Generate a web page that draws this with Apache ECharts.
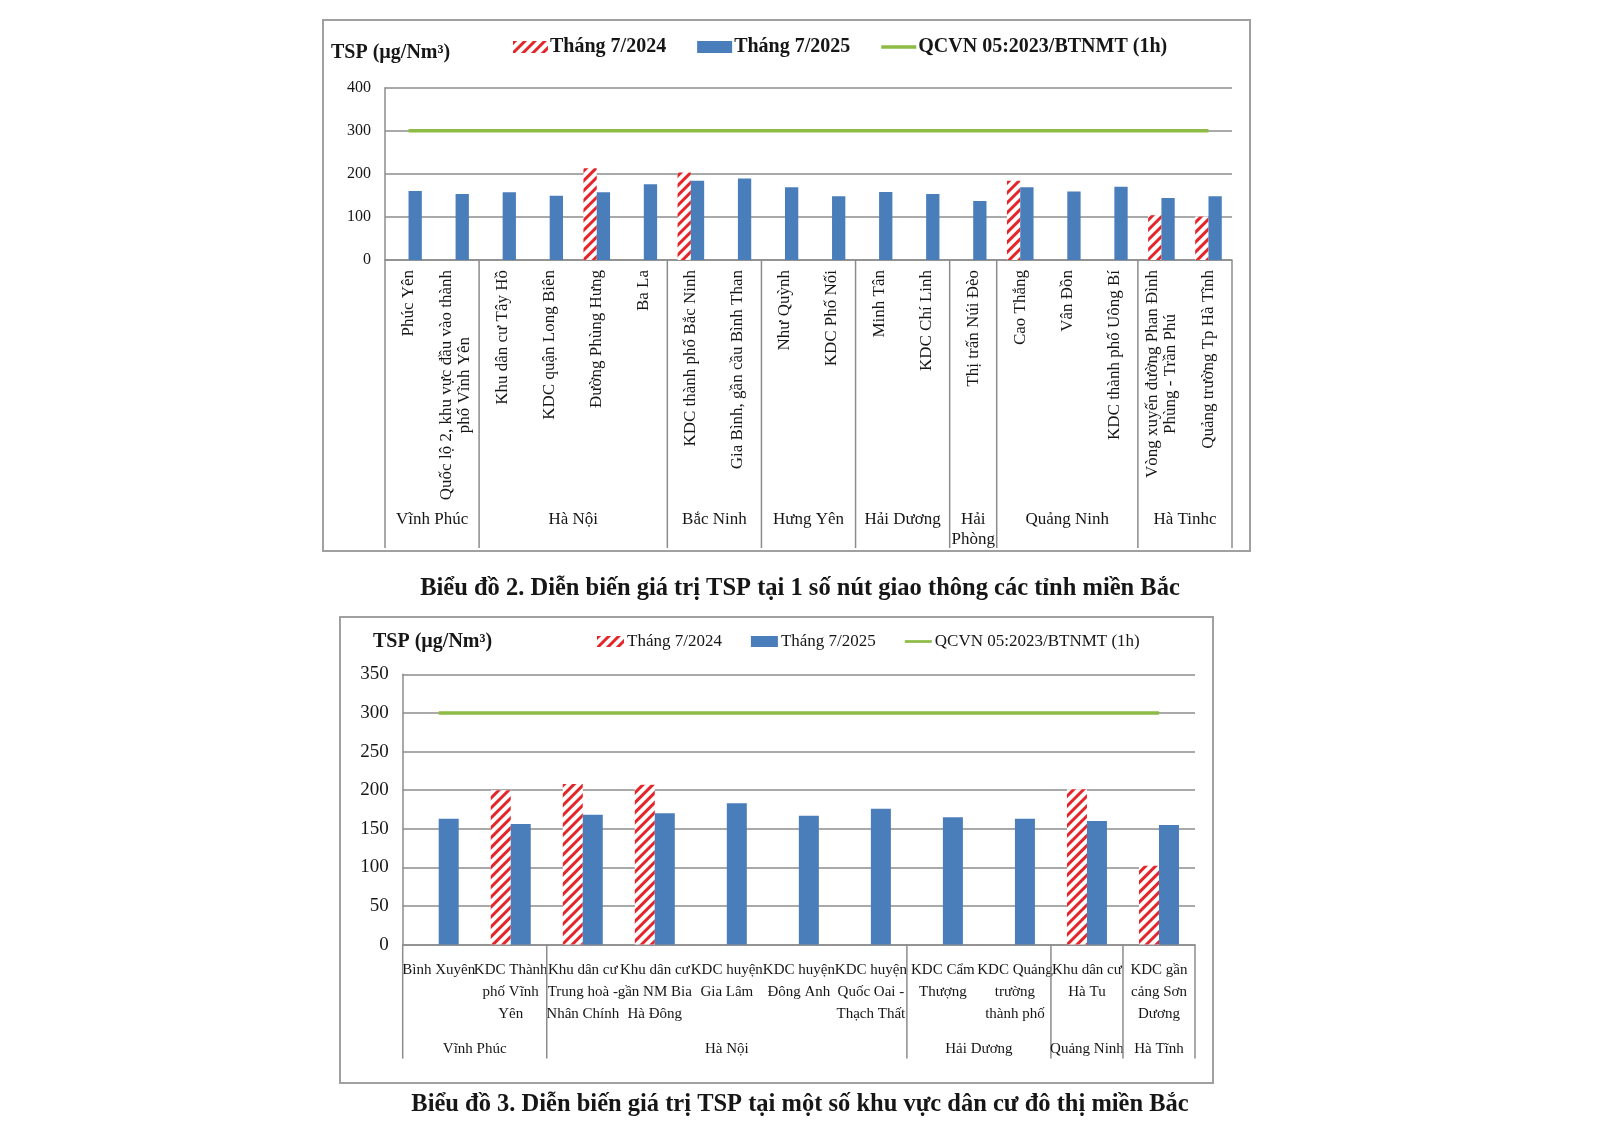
<!DOCTYPE html>
<html>
<head>
<meta charset="utf-8">
<title>TSP</title>
<script src="https://cdn.jsdelivr.net/npm/echarts@6/dist/echarts.min.js"></script>
<style>
  html, body { margin: 0; padding: 0; background: #fff; }
  #main { width: 1600px; height: 1131px; }
</style>
</head>
<body>
<div id="main"></div>
<script>
// ---------------- Biểu đồ 2 : nút giao thông ----------------
var cats1 = [
    'Phúc Yên',
    'Quốc lộ 2, khu vực đầu vào thành\nphố Vĩnh Yên',
    'Khu dân cư Tây Hồ',
    'KDC quận Long Biên',
    'Đường Phùng Hưng',
    'Ba La',
    'KDC thành phố Bắc Ninh',
    'Gia Bình, gần cầu Bình Than',
    'Như Quỳnh',
    'KDC Phố Nối',
    'Minh Tân',
    'KDC Chí Linh',
    'Thị trấn Núi Đèo',
    'Cao Thắng',
    'Vân Đồn',
    'KDC thành phố Uông Bí',
    'Vòng xuyến đường Phan Đình\nPhùng - Trần Phú',
    'Quảng trường Tp Hà Tĩnh'
];
var t2024a = [null, null, null, null, 213, null, 203, null, null, null, null, null, null, 184, null, null, 104, 101];
var t2025a = [160, 153, 157, 149, 157, 176, 184, 189, 169, 148, 158, 153, 137, 169, 159, 170, 144, 148];
var qcvnA  = [300, 300, 300, 300, 300, 300, 300, 300, 300, 300, 300, 300, 300, 300, 300, 300, 300, 300];
var groups1 = ['Vĩnh Phúc', 'Hà Nội', 'Bắc Ninh', 'Hưng Yên', 'Hải Dương', 'Hải\nPhòng', 'Quảng Ninh', 'Hà Tinhc'];
var groupCount1 = [2, 4, 2, 2, 2, 1, 3, 2];

// ---------------- Biểu đồ 3 : khu dân cư ----------------
var cats2 = [
    'Bình Xuyên',
    'KDC Thành\nphố Vĩnh\nYên',
    'Khu dân cư\nTrung hoà -\nNhân Chính',
    'Khu dân cư\ngần NM Bia\nHà Đông',
    'KDC huyện\nGia Lâm',
    'KDC huyện\nĐông Anh',
    'KDC huyện\nQuốc Oai -\nThạch Thất',
    'KDC Cẩm\nThượng',
    'KDC Quảng\ntrường\nthành phố',
    'Khu dân cư\nHà Tu',
    'KDC gần\ncảng Sơn\nDương'
];
var t2024b = [null, 200, 208, 207, null, null, null, null, null, 201, 102];
var t2025b = [163, 156, 168, 170, 183, 167, 176, 165, 163, 160, 155];
var qcvnB  = [300, 300, 300, 300, 300, 300, 300, 300, 300, 300, 300];
var groups2 = ['Vĩnh Phúc', 'Hà Nội', 'Hải Dương', 'Quảng Ninh', 'Hà Tĩnh'];
var groupCount2 = [2, 5, 2, 1, 1];

var nameA = 'Tháng 7/2024';
var nameB = 'Tháng 7/2025';
var nameC = 'QCVN 05:2023/BTNMT (1h)';

var FONT = '"Liberation Serif", "Times New Roman", serif';
var RED = '#E4262B';
var BLUE = '#4A7EBB';
var GREEN = '#8DBB45';
var GRID = '#8c8c8c';
var INK = '#161616';
var LINE_ICON = 'path://M0,0 L36,0 L36,3.6 L0,3.6 Z';

var hatch = {
    symbol: 'rect',
    symbolSize: 1,
    color: RED,
    dashArrayX: [1, 0],
    dashArrayY: [3, 4],
    rotation: -Math.PI / 4
};

function groupData(counts) {
    var out = [], s = 0;
    for (var i = 0; i < counts.length; i++) {
        out.push([s, counts[i]]);
        s += counts[i];
    }
    return out;
}

// vạch ngăn nhóm + tên tỉnh dưới trục
function groupRender(names, sepLen, labelY, fontSize, lineH) {
    return function (params, api) {
        var i = params.dataIndex;
        var band = api.size([1, 0])[0];
        var p = api.coord([api.value(0), 0]);
        var x0 = p[0] - band / 2;
        var x1 = x0 + band * api.value(1);
        var kids = [
            { type: 'line', shape: { x1: x0, y1: p[1], x2: x0, y2: p[1] + sepLen },
              style: { stroke: GRID, lineWidth: 1.5 } },
            { type: 'text', x: (x0 + x1) / 2, y: p[1] + labelY,
              style: { text: names[i], align: 'center', verticalAlign: 'top',
                       font: fontSize + 'px ' + FONT, lineHeight: lineH, fill: INK } }
        ];
        if (i === names.length - 1) {
            kids.push({ type: 'line', shape: { x1: x1, y1: p[1], x2: x1, y2: p[1] + sepLen },
                        style: { stroke: GRID, lineWidth: 1.5 } });
        }
        return { type: 'group', children: kids };
    };
}

var myChart = echarts.init(document.getElementById('main'), null, { renderer: 'canvas' });

var option = {
    animation: false,
    backgroundColor: '#fff',
    graphic: [
        { type: 'rect', shape: { x: 323, y: 20, width: 927, height: 531 },
          style: { fill: null, stroke: '#a0a0a0', lineWidth: 2 } },
        { type: 'rect', shape: { x: 340, y: 617, width: 873, height: 466 },
          style: { fill: null, stroke: '#a0a0a0', lineWidth: 2 } }
    ],
    title: [
        { text: 'TSP (µg/Nm³)', left: 331, top: 43, padding: 0,
          textStyle: { fontFamily: FONT, fontSize: 20, fontWeight: 'bold', color: INK } },
        { text: 'TSP (µg/Nm³)', left: 373, top: 632, padding: 0,
          textStyle: { fontFamily: FONT, fontSize: 20, fontWeight: 'bold', color: INK } },
        { text: 'Biểu đồ 2. Diễn biến giá trị TSP tại 1 số nút giao thông các tỉnh miền Bắc',
          left: 'center', top: 576, padding: 0,
          textStyle: { fontFamily: FONT, fontSize: 24.5, fontWeight: 'bold', color: INK } },
        { text: 'Biểu đồ 3. Diễn biến giá trị TSP tại một số khu vực dân cư đô thị miền Bắc',
          left: 'center', top: 1092, padding: 0,
          textStyle: { fontFamily: FONT, fontSize: 24.5, fontWeight: 'bold', color: INK } }
    ],
    legend: [
        { data: [{ name: nameA, icon: 'rect' }, { name: nameB, icon: 'rect' }, { name: nameC, icon: LINE_ICON }],
          left: 513, top: 37, padding: 0, itemWidth: 35, itemHeight: 12, itemGap: 31,
          selectedMode: false,
          textStyle: { fontFamily: FONT, fontSize: 20, fontWeight: 'bold', color: INK, padding: [0, 0, 0, -3] } },
        { data: [{ name: nameA, icon: 'rect' }, { name: nameB, icon: 'rect' }, { name: nameC, icon: LINE_ICON }],
          left: 597, top: 633, padding: 0, itemWidth: 27, itemHeight: 11, itemGap: 29,
          selectedMode: false,
          textStyle: { fontFamily: FONT, fontSize: 17, color: INK, padding: [0, 0, 0, -2] } }
    ],
    grid: [
        { left: 385, top: 87.7, width: 847, height: 172.3, outerBoundsMode: 'none' },
        { left: 402.7, top: 674.3, width: 792.3, height: 270.3, outerBoundsMode: 'none' }
    ],
    xAxis: [
        { type: 'category', gridIndex: 0, data: cats1,
          axisLine: { lineStyle: { color: GRID, width: 1.5 } },
          axisTick: { show: false },
          axisLabel: {
              interval: 0, rotate: 90, margin: 10,
              formatter: function (v) {
                  return v.split('\n').map(function (s) { return '{c|' + s + '}'; }).join('\n');
              },
              rich: { c: { align: 'center', fontFamily: FONT, fontSize: 17, lineHeight: 18, color: INK } }
          } },
        { type: 'category', gridIndex: 1, data: cats2,
          axisLine: { lineStyle: { color: GRID, width: 1.5 } },
          axisTick: { show: false },
          axisLabel: { interval: 0, margin: 14, fontFamily: FONT, fontSize: 15, lineHeight: 22, color: INK } }
    ],
    yAxis: [
        { type: 'value', gridIndex: 0, min: 0, max: 400, interval: 100,
          axisLine: { show: true, lineStyle: { color: GRID, width: 1.5 } },
          axisTick: { show: false },
          splitLine: { lineStyle: { color: GRID, width: 1.5 } },
          axisLabel: { margin: 14, fontFamily: FONT, fontSize: 16, color: INK } },
        { type: 'value', gridIndex: 1, min: 0, max: 350, interval: 50,
          axisLine: { show: true, lineStyle: { color: GRID, width: 1.5 } },
          axisTick: { show: false },
          splitLine: { lineStyle: { color: GRID, width: 1.5 } },
          axisLabel: { margin: 14, fontFamily: FONT, fontSize: 19, color: INK } }
    ],
    series: [
        { name: nameA, type: 'bar', xAxisIndex: 0, yAxisIndex: 0, data: t2024a,
          barWidth: 13.3, barGap: '0%',
          itemStyle: { color: '#fff', decal: hatch } },
        { name: nameB, type: 'bar', xAxisIndex: 0, yAxisIndex: 0, data: t2025a,
          barWidth: 13.3, barGap: '0%',
          itemStyle: { color: BLUE } },
        { name: nameC, type: 'line', xAxisIndex: 0, yAxisIndex: 0, data: qcvnA,
          symbol: 'none', lineStyle: { color: GREEN, width: 3.5 }, itemStyle: { color: GREEN } },
        { type: 'custom', xAxisIndex: 0, yAxisIndex: 0, data: groupData(groupCount1),
          silent: true, clip: false,
          renderItem: groupRender(groups1, 288, 250, 17, 20) },

        { name: nameA, type: 'bar', xAxisIndex: 1, yAxisIndex: 1, data: t2024b,
          barWidth: 20, barGap: '0%',
          itemStyle: { color: '#fff', decal: hatch } },
        { name: nameB, type: 'bar', xAxisIndex: 1, yAxisIndex: 1, data: t2025b,
          barWidth: 20, barGap: '0%',
          itemStyle: { color: BLUE } },
        { name: nameC, type: 'line', xAxisIndex: 1, yAxisIndex: 1, data: qcvnB,
          symbol: 'none', lineStyle: { color: GREEN, width: 3.5 }, itemStyle: { color: GREEN } },
        { type: 'custom', xAxisIndex: 1, yAxisIndex: 1, data: groupData(groupCount2),
          silent: true, clip: false,
          renderItem: groupRender(groups2, 114, 94, 15, 20) }
    ]
};

if (option && typeof option === 'object') {
    myChart.setOption(option, true);
}
</script>
</body>
</html>
